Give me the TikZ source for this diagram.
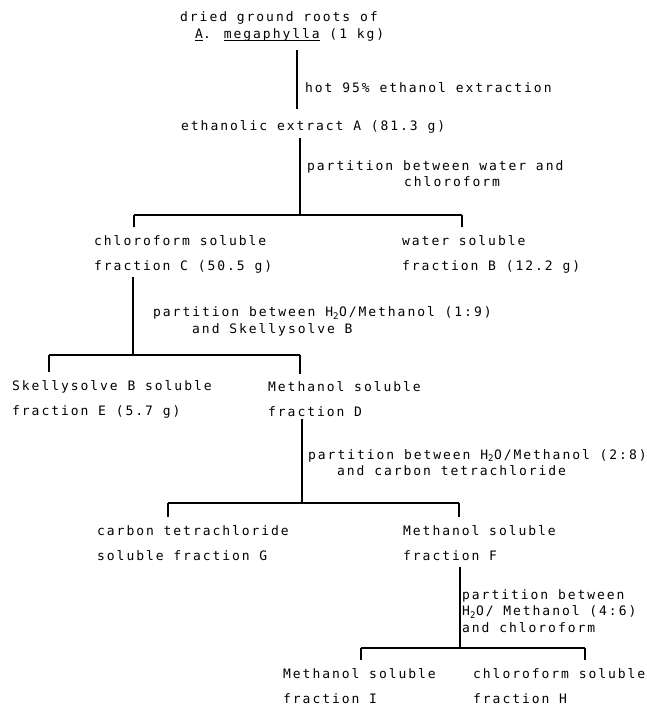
\documentclass[tikz,border=0pt]{standalone}
\usepackage{fontspec}
\newfontfamily\typefont[LetterSpace=15]{DejaVu Sans Mono}
\usetikzlibrary{positioning}

\tikzset{
  txt/.style={anchor=west, inner sep=0pt, align=left, font=\typefont\fontsize{13}{25}\selectfont},
  cond/.style={txt, font=\typefont\fontsize{13}{16.5}\selectfont},
  stem/.style={line width=1.3pt},
  bar/.style={line width=1.8pt},
  tick/.style={line width=1.1pt, shorten >=8pt},
}

\begin{document}
\begin{tikzpicture}[x=1pt, y=-1pt]

\fill[white] (0,0) rectangle (647,706);
\useasboundingbox (0,0) rectangle (647,706);

% starting material and extract
\node[txt, font=\typefont\fontsize{13}{17}\selectfont] (roots) at (180,26.5) {dried ground roots of\\\hspace*{15pt}\underline{\smash{A}}. \underline{\smash{megaphylla}} (1 kg)};
\node[txt] (extA) at (181,127) {ethanolic extract A (81.3 g)};

% fractions
\node[txt] (fracC) at (94,254) {chloroform soluble\\fraction C (50.5 g)};
\node[txt] (fracB) at (402,254) {water soluble\\fraction B (12.2 g)};
\node[txt] (fracE) at (12,399.5) {Skellysolve B soluble\\fraction E (5.7 g)};
\node[txt] (fracD) at (268,399.5) {Methanol soluble\\fraction D};
\node[txt] (fracG) at (97,543) {carbon tetrachloride\\soluble fraction G};
\node[txt] (fracF) at (403,543) {Methanol soluble\\fraction F};
\node[txt] (fracI) at (283,686) {Methanol soluble\\fraction I};
\node[txt] (fracH) at (473,686) {chloroform soluble\\fraction H};

% conditions
\node[cond] (ethanol) at (305,88) {hot 95\% ethanol extraction};
\node[cond] (part1) at (307,173.5) {partition between water and\\\hspace*{97pt}chloroform};
\node[cond] (part2) at (153,321.5) {partition between H\textsubscript{2}O/Methanol (1:9)\\\hspace*{39pt}and Skellysolve B};
\node[cond] (part3) at (308,462.5) {partition between H\textsubscript{2}O/Methanol (2:8)\\\hspace*{29pt}and carbon tetrachloride};
\node[cond] (part4) at (462,611) {partition between\\H\textsubscript{2}O/ Methanol (4:6)\\and chloroform};

% stems and bars
\coordinate (s0) at (297,0);
\coordinate (s1) at (300,215); \coordinate (l1) at (134,215); \coordinate (r1) at (462,215);
\coordinate (s2) at (133,355); \coordinate (l2) at (49,355);  \coordinate (r2) at (300,355);
\coordinate (s3) at (302,503); \coordinate (l3) at (168,503); \coordinate (r3) at (459,503);
\coordinate (s4) at (460,648); \coordinate (l4) at (361,648); \coordinate (r4) at (585,648);

\draw[stem, shorten <=8pt, shorten >=11pt] (roots.south -| s0) -- (extA.north -| s0);

\draw[stem, shorten <=4pt] (extA.south -| s1) -- (s1);
\draw[bar] (l1) -- (r1);
\draw[tick] (l1) -- (l1 |- fracC.north);
\draw[tick] (r1) -- (r1 |- fracB.north);

\draw[stem, shorten <=4pt] (fracC.south -| s2) -- (s2);
\draw[bar] (l2) -- (r2);
\draw[tick] (l2) -- (l2 |- fracE.north);
\draw[tick] (r2) -- (r2 |- fracD.north);

\draw[stem, shorten <=2pt] (fracD.south -| s3) -- (s3);
\draw[bar] (l3) -- (r3);
\draw[tick] (l3) -- (l3 |- fracG.north);
\draw[tick] (r3) -- (r3 |- fracF.north);

\draw[stem, shorten <=6pt] (fracF.south -| s4) -- (s4);
\draw[bar] (l4) -- (r4);
\draw[tick] (l4) -- (l4 |- fracI.north);
\draw[tick] (r4) -- (r4 |- fracH.north);

\end{tikzpicture}
\end{document}
